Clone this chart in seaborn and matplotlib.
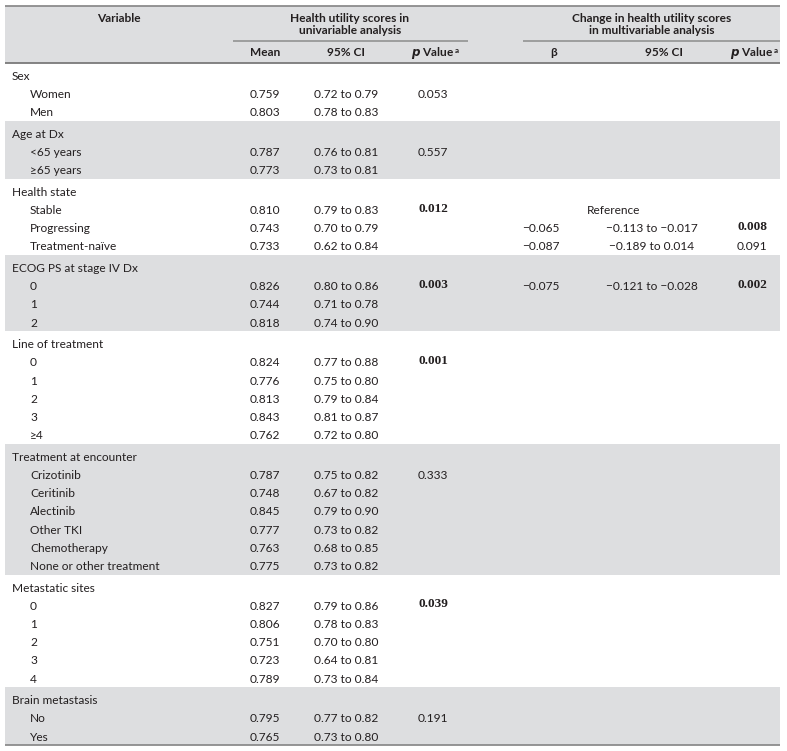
import matplotlib
matplotlib.use("Agg")
import matplotlib.pyplot as plt
import seaborn as sns

sns.set_theme(style="white")
plt.rcParams['font.family'] = ['Lato', 'DejaVu Sans']

# ---------------- data ----------------
groups = ["Sex", "Age at Dx", "Health state", "ECOG PS at stage IV Dx",
          "Line of treatment", "Treatment at encounter", "Metastatic sites",
          "Brain metastasis"]
items = [["Women", "Men"],
         ["<65 years", "\u226565 years"],
         ["Stable", "Progressing", "Treatment-na\u00efve"],
         ["0", "1", "2"],
         ["0", "1", "2", "3", "\u22654"],
         ["Crizotinib", "Ceritinib", "Alectinib", "Other TKI", "Chemotherapy",
          "None or other treatment"],
         ["0", "1", "2", "3", "4"],
         ["No", "Yes"]]
means = [[0.759, 0.803],
         [0.787, 0.773],
         [0.810, 0.743, 0.733],
         [0.826, 0.744, 0.818],
         [0.824, 0.776, 0.813, 0.843, 0.762],
         [0.787, 0.748, 0.845, 0.777, 0.763, 0.775],
         [0.827, 0.806, 0.751, 0.723, 0.789],
         [0.795, 0.765]]
ci_low = [[0.72, 0.78],
          [0.76, 0.73],
          [0.79, 0.70, 0.62],
          [0.80, 0.71, 0.74],
          [0.77, 0.75, 0.79, 0.81, 0.72],
          [0.75, 0.67, 0.79, 0.73, 0.68, 0.73],
          [0.79, 0.78, 0.70, 0.64, 0.73],
          [0.77, 0.73]]
ci_high = [[0.79, 0.83],
           [0.81, 0.81],
           [0.83, 0.79, 0.84],
           [0.86, 0.78, 0.90],
           [0.88, 0.80, 0.84, 0.87, 0.80],
           [0.82, 0.82, 0.90, 0.82, 0.85, 0.82],
           [0.86, 0.83, 0.80, 0.81, 0.84],
           [0.82, 0.80]]
p_uni = [0.053, 0.557, 0.012, 0.003, 0.001, 0.333, 0.039, 0.191]

# multivariable: (group index, item index, beta, lo, hi, p); None beta = Reference
multi_group = [2, 2, 2, 3]
multi_item = [0, 1, 2, 0]
multi_beta = [None, -0.065, -0.087, -0.075]
multi_lo = [None, -0.113, -0.189, -0.121]
multi_hi = [None, -0.017, 0.014, -0.028]
multi_p = [None, 0.008, 0.091, 0.002]

# ---------------- layout ----------------
W, H = 787, 751
fig = plt.figure(figsize=(W / 100, H / 100), dpi=100)
ax = fig.add_axes([0, 0, 1, 1])
ax.set_xlim(0, W)
ax.set_ylim(H, 0)
ax.axis('off')

X0, X1 = 5, 780
GRAY = "#dddee0"
LINE = "#8c8c8c"
TXT = "#231f20"
FS = 8.6

x_grp, x_item = 12, 30
x_mean, x_ci, x_p = 265, 346, 433
x_beta, x_ci2, x_p2 = 541, 652, 752

def fmt(v, nd):
    s = f"{abs(v):.{nd}f}"
    return ("\u2212" + s) if v < 0 else s

def pval(x, y, v):
    if v < 0.05:
        ax.text(x, y - 2, f"{v:.3f}", ha='center', va='center', fontsize=FS + 0.9,
                fontweight='bold', family=['Liberation Serif', 'DejaVu Serif'], color=TXT)
    else:
        ax.text(x, y, f"{v:.3f}", ha='center', va='center', fontsize=FS, color=TXT)

# header
hdr_top, hdr_bot = 6, 63
ax.axhspan(hdr_top, hdr_bot, xmin=X0 / W, xmax=X1 / W, color=GRAY, lw=0, zorder=0)
ax.plot([X0, X1], [hdr_top, hdr_top], color=LINE, lw=1.3, solid_capstyle='butt')
ax.plot([X0, X1], [hdr_bot, hdr_bot], color="#7a7a7a", lw=1.3, solid_capstyle='butt')
ax.plot([233, 468], [41, 41], color=LINE, lw=1.1, solid_capstyle='butt')
ax.plot([523, X1], [41, 41], color=LINE, lw=1.1, solid_capstyle='butt')

hb = dict(fontsize=FS, fontweight='bold', color=TXT, va='center')
ax.text(119, 18, "Variable", ha='center', **hb)
ax.text(350, 18, "Health utility scores in", ha='center', **hb)
ax.text(350, 31, "univariable analysis", ha='center', **hb)
ax.text(652, 18, "Change in health utility scores", ha='center', **hb)
ax.text(652, 31, "in multivariable analysis", ha='center', **hb)
ax.text(x_mean, 53, "Mean", ha='center', **hb)
ax.text(x_ci, 53, "95% CI", ha='center', **hb)
ax.text(x_ci2 + 12, 53, "95% CI", ha='center', **hb)
ax.text(x_beta + 13, 53, "\u03b2", ha='center', **hb)
for xp in (x_p, x_p2):
    ax.text(xp + 21, 53, r"$\mathbfit{p}$ Value", ha='right', **hb)
    ax.text(xp + 21.5, 50.5, "a", ha='left', va='center', fontsize=5.8,
            fontweight='bold', color=TXT)

# body
pitch, pad = 18.2, 3.4
y = hdr_bot
row_y = {}
for gi, g in enumerate(groups):
    n = len(items[gi]) + 1
    h = n * pitch + pad
    if gi % 2 == 1:
        ax.axhspan(y, y + h, xmin=X0 / W, xmax=X1 / W, color=GRAY, lw=0, zorder=0)
    yc = y + pad / 2 + pitch / 2 + 2.5
    ax.text(x_grp, yc, g, ha='left', va='center', fontsize=FS, color=TXT)
    for ii, it in enumerate(items[gi]):
        yy = yc + (ii + 1) * pitch
        row_y[(gi, ii)] = yy
        ax.text(x_item, yy, it, ha='left', va='center', fontsize=FS, color=TXT)
        ax.text(x_mean, yy, f"{means[gi][ii]:.3f}", ha='center', va='center',
                fontsize=FS, color=TXT)
        ax.text(x_ci, yy, f"{ci_low[gi][ii]:.2f} to {ci_high[gi][ii]:.2f}",
                ha='center', va='center', fontsize=FS, color=TXT)
        if ii == 0:
            pval(x_p, yy, p_uni[gi])
    y += h

ax.plot([X0, X1], [y, y], color=LINE, lw=1.3, solid_capstyle='butt')

for k in range(len(multi_group)):
    yy = row_y[(multi_group[k], multi_item[k])]
    if multi_beta[k] is None:
        ax.text(614, yy, "Reference", ha='center', va='center', fontsize=FS, color=TXT)
        continue
    ax.text(x_beta, yy, fmt(multi_beta[k], 3), ha='center', va='center',
            fontsize=FS, color=TXT)
    ax.text(x_ci2, yy, f"{fmt(multi_lo[k], 3)} to {fmt(multi_hi[k], 3)}",
            ha='center', va='center', fontsize=FS, color=TXT)
    pval(x_p2, yy, multi_p[k])

fig.savefig("out.png", dpi=100, facecolor="white")
